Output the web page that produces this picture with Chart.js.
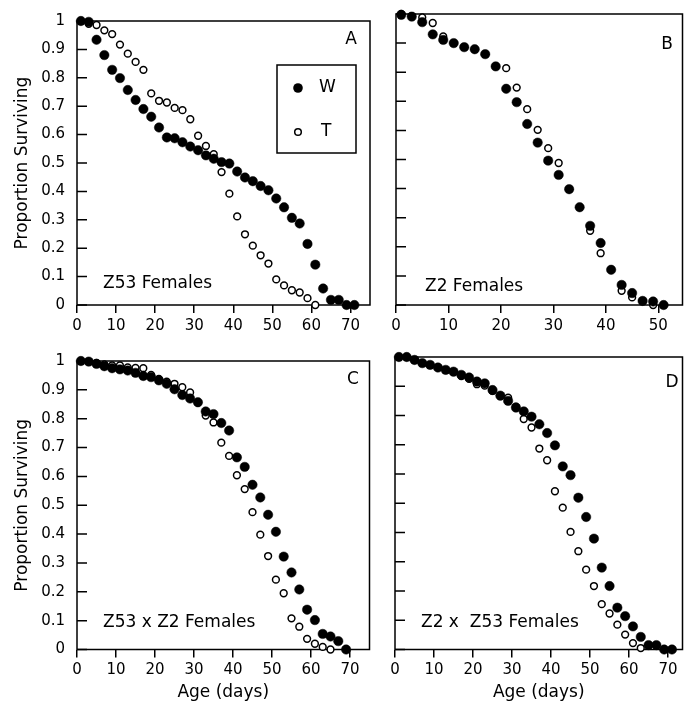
<!DOCTYPE html>
<html>
<head>
<meta charset="utf-8">
<script src="https://cdn.jsdelivr.net/npm/chart.js@4.4.1/dist/chart.umd.min.js"></script>
<style>
  body { margin: 0; background: #fff; }
  #wrap { position: relative; width: 688px; height: 711px; background: #fff; }
  canvas { position: absolute; }
</style>
</head>
<body>
<div id="wrap">
  <canvas id="cA" width="382" height="340" style="left:0;top:0"></canvas>
  <canvas id="cB" width="306" height="340" style="left:382px;top:0"></canvas>
  <canvas id="cC" width="382" height="371" style="left:0;top:340px"></canvas>
  <canvas id="cD" width="306" height="371" style="left:382px;top:340px"></canvas>
</div>
<script>
const FONT = "'DejaVu Sans', sans-serif";

// A - Z53 females
const daysA_W = [1,3,5,7,9,11,13,15,17,19,21,23,25,27,29,31,33,35,37,39,41,43,45,47,49,51,53,55,57,59,61,63,65,67,69,71];
const survA_W = [1.0,0.997,0.934,0.88,0.828,0.799,0.757,0.722,0.69,0.663,0.625,0.59,0.587,0.573,0.558,0.545,0.527,0.515,0.503,0.498,0.47,0.449,0.436,0.419,0.404,0.375,0.344,0.307,0.287,0.215,0.142,0.058,0.018,0.018,0,0];
const daysA_T = [1,3,5,7,9,11,13,15,17,19,21,23,25,27,29,31,33,35,37,39,41,43,45,47,49,51,53,55,57,59,61];
const survA_T = [1.0,0.99,0.986,0.967,0.954,0.917,0.885,0.856,0.828,0.745,0.719,0.713,0.694,0.686,0.654,0.596,0.56,0.531,0.468,0.392,0.312,0.249,0.209,0.175,0.146,0.09,0.069,0.052,0.044,0.024,0];

// B - Z2 females
const daysB_W = [1,3,5,7,9,11,13,15,17,19,21,23,25,27,29,31,33,35,37,39,41,43,45,47,49,51];
const survB_W = [0.997,0.991,0.972,0.93,0.911,0.9,0.886,0.879,0.862,0.82,0.743,0.697,0.622,0.558,0.496,0.447,0.398,0.336,0.272,0.213,0.121,0.069,0.041,0.014,0.012,0];
const daysB_T = [1,3,5,7,9,11,13,15,17,19,21,23,25,27,29,31,33,35,37,39,41,43,45,47,49];
const survB_T = [1.0,0.993,0.988,0.969,0.923,0.9,0.886,0.879,0.862,0.82,0.814,0.747,0.673,0.602,0.539,0.488,0.398,0.336,0.255,0.178,0.121,0.049,0.026,0.014,0];

// C - Z53 x Z2 females
const daysC_W = [1,3,5,7,9,11,13,15,17,19,21,23,25,27,29,31,33,35,37,39,41,43,45,47,49,51,53,55,57,59,61,63,65,67,69];
const survC_W = [1.0,0.998,0.99,0.982,0.975,0.971,0.967,0.959,0.948,0.944,0.933,0.921,0.902,0.882,0.87,0.857,0.825,0.816,0.785,0.759,0.666,0.633,0.571,0.527,0.467,0.408,0.322,0.267,0.208,0.138,0.102,0.054,0.045,0.029,0];
const daysC_T = [1,3,5,7,9,11,13,15,17,19,21,23,25,27,29,31,33,35,37,39,41,43,45,47,49,51,53,55,57,59,61,63,65];
const survC_T = [1.0,0.998,0.993,0.988,0.985,0.985,0.978,0.976,0.975,0.952,0.938,0.928,0.921,0.909,0.891,0.855,0.811,0.787,0.717,0.671,0.604,0.556,0.476,0.398,0.324,0.242,0.195,0.108,0.079,0.037,0.02,0.009,0];

// D - Z2 x Z53 females
const daysD_W = [1,3,5,7,9,11,13,15,17,19,21,23,25,27,29,31,33,35,37,39,41,43,45,47,49,51,53,55,57,59,61,63,65,67,69,71];
const survD_W = [1.0,1.0,0.99,0.979,0.973,0.964,0.956,0.95,0.939,0.93,0.916,0.91,0.887,0.868,0.85,0.827,0.814,0.796,0.77,0.74,0.698,0.626,0.596,0.519,0.453,0.379,0.28,0.217,0.143,0.114,0.079,0.043,0.015,0.015,0,0];
const daysD_T = [1,3,5,7,9,11,13,15,17,19,21,23,25,27,29,31,33,35,37,39,41,43,45,47,49,51,53,55,57,59,61,63];
const survD_T = [1.0,1.0,0.99,0.979,0.972,0.964,0.955,0.948,0.935,0.925,0.907,0.902,0.884,0.866,0.861,0.83,0.788,0.759,0.687,0.647,0.541,0.485,0.402,0.336,0.273,0.217,0.155,0.123,0.085,0.051,0.022,0.005];

function pts(days, surv) {
  return days.map((d, i) => ({ x: d, y: surv[i] }));
}

// box round the plot, inward y ticks, panel letter, caption, legend
const panelDecor = {
  id: "panelDecor",
  beforeDatasetsDraw(chart) {
    const ctx = chart.ctx;
    const a = chart.chartArea;
    ctx.save();
    ctx.strokeStyle = "#000";
    ctx.lineWidth = 1.5;
    ctx.strokeRect(a.left, a.top, a.right - a.left, a.bottom - a.top);
    ctx.beginPath();
    chart.scales.y.ticks.forEach(t => {
      const py = chart.scales.y.getPixelForValue(t.value);
      ctx.moveTo(a.left, py);
      ctx.lineTo(a.left + 10, py);
    });
    ctx.stroke();
    ctx.restore();
  },
  afterDraw(chart, args, opts) {
    const ctx = chart.ctx;
    ctx.save();
    ctx.fillStyle = "#000";
    ctx.font = "17px " + FONT;
    ctx.textBaseline = "middle";
    ctx.textAlign = "center";
    ctx.fillText(opts.letter, opts.letterX, opts.letterY);
    ctx.textAlign = "left";
    ctx.fillText(opts.caption, opts.captionX, opts.captionY);

    if (opts.legend) {
      const L = opts.legend;
      ctx.strokeStyle = "#000";
      ctx.lineWidth = 1.5;
      ctx.strokeRect(L.x, L.y, L.w, L.h);
      ctx.beginPath();
      ctx.arc(L.x + 21, L.y + 23, 4.8, 0, Math.PI * 2);
      ctx.fill();
      ctx.beginPath();
      ctx.arc(L.x + 21, L.y + 67, 3.3, 0, Math.PI * 2);
      ctx.fillStyle = "#fff";
      ctx.fill();
      ctx.stroke();
      ctx.fillStyle = "#000";
      ctx.fillText("W", L.x + 42, L.y + 23);
      ctx.fillText("T", L.x + 44, L.y + 67);
    }
    ctx.restore();
  }
};

function makePanel(id, wDays, wSurv, tDays, tSurv, cfg) {
  return new Chart(document.getElementById(id), {
    type: "scatter",
    data: {
      datasets: [
        {
          label: "W",
          data: pts(wDays, wSurv),
          clip: false,
          pointRadius: 4.7,
          pointBackgroundColor: "#000",
          pointBorderColor: "#000",
          pointBorderWidth: 0.5
        },
        {
          label: "T",
          data: pts(tDays, tSurv),
          clip: false,
          pointRadius: 3.4,
          pointBackgroundColor: "#fff",
          pointBorderColor: "#000",
          pointBorderWidth: 1.5
        }
      ]
    },
    options: {
      responsive: false,
      animation: false,
      devicePixelRatio: 1,
      events: [],
      layout: { padding: cfg.pad },
      plugins: {
        legend: { display: false },
        tooltip: { enabled: false },
        panelDecor: cfg.decor
      },
      scales: {
        x: {
          type: "linear",
          min: 0,
          max: cfg.xMax,
          border: { display: false },
          grid: { drawOnChartArea: false, drawTicks: true, tickLength: 8, color: "#000", lineWidth: 1.5 },
          ticks: {
            stepSize: 10,
            includeBounds: false,
            padding: 4,
            maxRotation: 0,
            color: "#000",
            font: { family: FONT, size: 15 }
          },
          title: {
            display: cfg.xTitle,
            text: "Age (days)",
            color: "#000",
            font: { family: FONT, size: 17 },
            padding: { top: 0, bottom: 8 }
          },
          afterFit: s => { s.height = cfg.xHeight; }
        },
        y: {
          type: "linear",
          min: 0,
          max: 1,
          border: { display: false },
          grid: { display: false, drawTicks: false },
          ticks: {
            display: cfg.yLabels,
            stepSize: 0.1,
            padding: 12,
            color: "#000",
            font: { family: FONT, size: 15 },
            callback: v => String(Math.round(v * 10) / 10)
          },
          title: {
            display: cfg.yLabels,
            text: "Proportion Surviving",
            color: "#000",
            font: { family: FONT, size: 17 },
            padding: { top: 12, bottom: 0 }
          },
          afterFit: s => { s.width = cfg.yWidth; }
        }
      }
    },
    plugins: [panelDecor]
  });
}

makePanel("cA", daysA_W, survA_W, daysA_T, survA_T, {
  pad: { left: 0, top: 14, right: 12, bottom: 0 },
  xMax: 75, xHeight: 35, yWidth: 77, yLabels: true, xTitle: false,
  decor: { letter: "A", letterX: 351, letterY: 40, caption: "Z53 Females", captionX: 103, captionY: 284,
           legend: { x: 277, y: 65, w: 79, h: 88 } }
});

makePanel("cB", daysB_W, survB_W, daysB_T, survB_T, {
  pad: { left: 0, top: 14, right: 1.5, bottom: 0 },
  xMax: 54.6, xHeight: 35, yWidth: 14, yLabels: false, xTitle: false,
  decor: { letter: "B", letterX: 285, letterY: 45, caption: "Z2 Females", captionX: 43, captionY: 287 }
});

makePanel("cC", daysC_W, survC_W, daysC_T, survC_T, {
  pad: { left: 0, top: 17, right: 12.5, bottom: 0 },
  xMax: 75, xHeight: 61.5, yWidth: 77, yLabels: true, xTitle: true,
  decor: { letter: "C", letterX: 353, letterY: 40, caption: "Z53 x Z2 Females", captionX: 103, captionY: 283 }
});

makePanel("cD", daysD_W, survD_W, daysD_T, survD_T, {
  pad: { left: 0, top: 17, right: 5, bottom: 0 },
  xMax: 73.7, xHeight: 61.5, yWidth: 13, yLabels: false, xTitle: true,
  decor: { letter: "D", letterX: 290, letterY: 43, caption: "Z2 x  Z53 Females", captionX: 39, captionY: 283 }
});
</script>
</body>
</html>
